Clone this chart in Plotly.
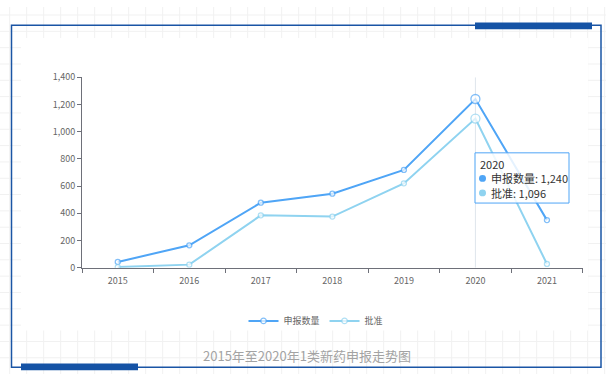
import plotly.graph_objects as go

# ---- data ----
years = ["2015", "2016", "2017", "2018", "2019", "2020", "2021"]
applied = [43, 165, 478, 544, 719, 1240, 350]      # 申报数量
approved = [5, 23, 385, 376, 620, 1096, 28]         # 批准
series_names = ["申报数量", "批准"]
y_ticks = [0, 200, 400, 600, 800, 1000, 1200, 1400]
caption = "2015年至2020年1类新药申报走势图"
focus_year = "2020"

W, H = 606, 380
C1 = "#4fa5f6"
C2 = "#8fd3f0"
FONT = "Noto Sans CJK SC, Noto Sans, sans-serif"


def px(x):
    return x / W


def py(y):
    return 1 - y / H


fig = go.Figure()

fi = years.index(focus_year)
for name, vals, col in [(series_names[0], applied, C1), (series_names[1], approved, C2)]:
    sizes = [9 if i == fi else 5 for i in range(len(years))]
    fig.add_trace(go.Scatter(
        x=years, y=vals, name=name, mode="lines+markers",
        line=dict(color=col, width=2),
        marker=dict(symbol="circle", size=sizes, color="white",
                    line=dict(color=col, width=1.3)),
        hoverinfo="skip",
    ))

shapes = []
# page background grid
x = 9.7
while x < W:
    shapes.append(dict(type="line", xref="paper", yref="paper", x0=px(x), x1=px(x),
                       y0=0, y1=1, line=dict(color="#f1f1f1", width=1), layer="below"))
    x += 17
y = 8.3
while y < H:
    shapes.append(dict(type="line", xref="paper", yref="paper", x0=0, x1=1,
                       y0=py(y), y1=py(y), line=dict(color="#f1f1f1", width=1), layer="below"))
    y += 16.9
# white chart background
shapes.append(dict(type="rect", xref="paper", yref="paper", x0=px(21), x1=px(588),
                   y0=py(335), y1=py(32), fillcolor="white", line=dict(width=0), layer="below"))
# axis pointer line
shapes.append(dict(type="line", xref="x", yref="y", x0=fi, x1=fi, y0=0, y1=1400,
                   line=dict(color="#dfe5ec", width=1), layer="below"))
# frame
shapes.append(dict(type="rect", xref="paper", yref="paper", x0=px(11.5), x1=px(601),
                   y0=py(373), y1=py(19), line=dict(color="#1a55a5", width=1.5),
                   fillcolor="rgba(0,0,0,0)"))
# decorative bars
shapes.append(dict(type="rect", xref="paper", yref="paper", x0=px(475), x1=px(592),
                   y0=py(23), y1=py(16), fillcolor="#1553a5", line=dict(width=0)))
shapes.append(dict(type="rect", xref="paper", yref="paper", x0=px(21), x1=px(138),
                   y0=py(376), y1=py(369), fillcolor="#1553a5", line=dict(width=0)))

# tooltip box
shapes.append(dict(type="rect", xref="paper", yref="paper", x0=px(475), x1=px(569),
                   y0=py(203), y1=py(151), fillcolor="rgba(255,255,255,0.85)",
                   line=dict(color=C1, width=1)))
# tooltip dots
for yy, col in [(177.5, C1), (192.5, C2)]:
    shapes.append(dict(type="circle", xref="paper", yref="paper",
                       x0=px(479), x1=px(486), y0=py(yy + 3.5), y1=py(yy - 3.5),
                       fillcolor=col, line=dict(width=0)))

tip_font = dict(family=FONT, size=11, color="#333")
annotations = [
    dict(text=focus_year, xref="paper", yref="paper", x=px(478), y=py(162.5),
         xanchor="left", yanchor="middle", showarrow=False, font=tip_font),
    dict(text=f"{series_names[0]}: {applied[fi]:,}", xref="paper", yref="paper",
         x=px(489), y=py(177.5), xanchor="left", yanchor="middle", showarrow=False,
         font=tip_font),
    dict(text=f"{series_names[1]}: {approved[fi]:,}", xref="paper", yref="paper",
         x=px(489), y=py(192.5), xanchor="left", yanchor="middle", showarrow=False,
         font=tip_font),
    dict(text=caption, xref="paper", yref="paper", x=px(307), y=py(361),
         xanchor="center", yanchor="middle", showarrow=False,
         font=dict(family=FONT, size=13, color="#a3a3a3")),
]

fig.update_layout(
    width=W, height=H, autosize=False,
    margin=dict(l=0, r=0, t=0, b=0),
    paper_bgcolor="white", plot_bgcolor="rgba(0,0,0,0)",
    font=dict(family=FONT, size=9, color="#666"),
    shapes=shapes, annotations=annotations,
    hovermode=False,
    showlegend=True,
    legend=dict(orientation="h", x=px(316), y=py(325), xanchor="center", yanchor="middle",
                font=dict(family=FONT, size=9, color="#666"), itemwidth=30,
                bgcolor="rgba(0,0,0,0)", tracegroupgap=0),
    xaxis=dict(domain=[px(82), px(582.7)], type="category", range=[-0.5, 6.5],
               showline=True, linecolor="#6e7079", linewidth=1,
               ticks="outside", ticklen=4, tickcolor="#6e7079", tickson="boundaries",
               ticklabelstandoff=4,
               showgrid=False, zeroline=False, fixedrange=True,
               tickfont=dict(family=FONT, size=9, color="#666")),
    yaxis=dict(domain=[py(270), py(72.7)], range=[0, 1400], tickvals=y_ticks,
               tickformat=",", showline=True, linecolor="#6e7079", linewidth=1,
               ticks="outside", ticklen=4, tickcolor="#6e7079",
               showgrid=False, zeroline=False, fixedrange=True,
               tickfont=dict(family=FONT, size=9, color="#666")),
)

fig.write_html(
    "out.html",
    config={"displayModeBar": False},
    post_script="document.body.style.margin='0';document.body.style.padding='0';"
                "document.body.style.overflow='hidden';",
)
